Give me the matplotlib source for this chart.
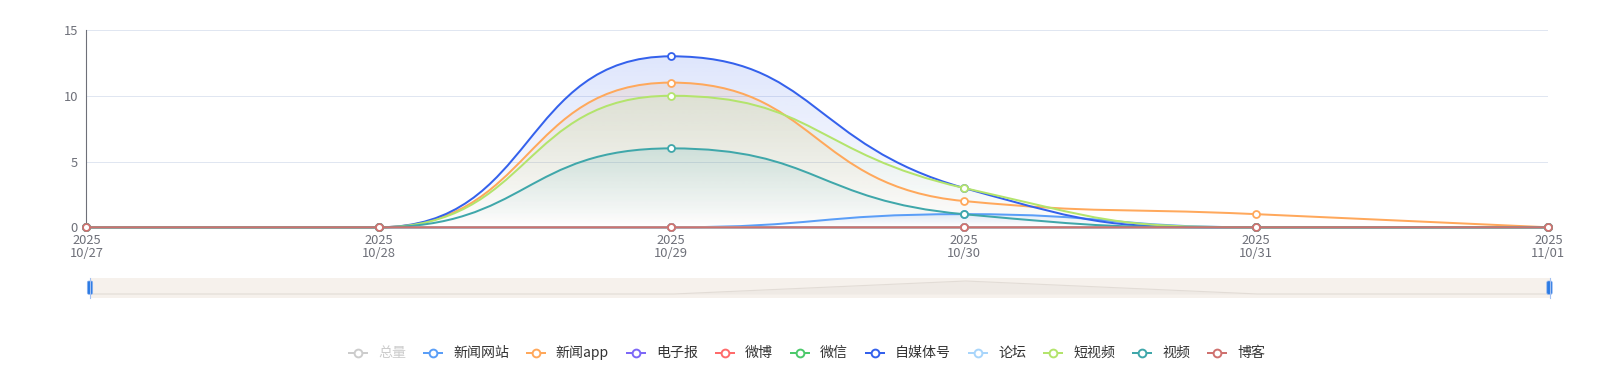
import numpy as np
import matplotlib
matplotlib.use('Agg')
import matplotlib.pyplot as plt
from matplotlib.path import Path
from matplotlib.patches import PathPatch, FancyBboxPatch
from matplotlib.colors import to_rgb

plt.rcParams['font.family'] = ['Noto Sans CJK SC', 'DejaVu Sans']

# ---- data ----
years = ['2025', '2025', '2025', '2025', '2025', '2025']
days = ['10/27', '10/28', '10/29', '10/30', '10/31', '11/01']

news_site = [0, 0, 0, 1, 0, 0]
news_app = [0, 0, 11, 2, 1, 0]
e_paper = [0, 0, 0, 0, 0, 0]
weibo = [0, 0, 0, 0, 0, 0]
wechat = [0, 0, 0, 0, 0, 0]
self_media = [0, 0, 13, 3, 0, 0]
forum = [0, 0, 0, 0, 0, 0]
short_video = [0, 0, 10, 3, 0, 0]
video = [0, 0, 6, 1, 0, 0]
blog = [0, 0, 0, 0, 0, 0]

# (name, values, color); 总量 is switched off in the legend
series = [
    ('新闻网站', news_site, '#5a9ef7'),
    ('新闻app', news_app, '#ffa85b'),
    ('电子报', e_paper, '#7d68f7'),
    ('微博', weibo, '#ff6b6b'),
    ('微信', wechat, '#4cc96b'),
    ('自媒体号', self_media, '#3461ec'),
    ('论坛', forum, '#a8d5fb'),
    ('短视频', short_video, '#b3e46c'),
    ('视频', video, '#3fa7aa'),
    ('博客', blog, '#cf716f'),
]
legend_items = [('总量', '#cccccc', False)] + [(n, c, True) for n, v, c in series]

W, H = 1613, 382
fig = plt.figure(figsize=(W / 100, H / 100), dpi=100)

ax = fig.add_axes([86.3 / W, 1 - 227.3 / H, (1548.3 - 86.3) / W, (227.3 - 30) / H])
x = np.arange(len(days))
ax.set_xlim(0, len(days) - 1)
ax.set_ylim(0, 15)


def smooth_curve(ax, xs, ys, smooth=0.5):
    # echarts style bezier smoothing, done in pixel space
    pts = ax.transData.transform(np.column_stack([xs, ys]).astype(float))
    n = len(pts)
    verts = [tuple(pts[0])]
    codes = [Path.MOVETO]
    cp0 = tuple(pts[0])
    for k in range(1, n):
        px, py = pts[k - 1]
        cx, cy = pts[k]
        if k == n - 1:
            cp1 = (cx, cy)
            nxt = None
        else:
            nx, ny = pts[k + 1]
            vx, vy = nx - px, ny - py
            lp = np.hypot(cx - px, cy - py)
            ln = np.hypot(nx - cx, ny - cy)
            r = ln / (ln + lp)
            ncx = cx + vx * smooth * r
            ncy = cy + vy * smooth * r
            ncx = min(max(ncx, min(nx, cx)), max(nx, cx))
            ncy = min(max(ncy, min(ny, cy)), max(ny, cy))
            vx, vy = ncx - cx, ncy - cy
            c1x = cx - vx * lp / ln
            c1y = cy - vy * lp / ln
            c1x = min(max(c1x, min(px, cx)), max(px, cx))
            c1y = min(max(c1y, min(py, cy)), max(py, cy))
            vx, vy = cx - c1x, cy - c1y
            ncx = cx + vx * ln / lp
            ncy = cy + vy * ln / lp
            cp1 = (c1x, c1y)
            nxt = (ncx, ncy)
        verts += [cp0, cp1, (cx, cy)]
        codes += [Path.CURVE4] * 3
        cp0 = nxt
    verts = ax.transData.inverted().transform(np.array(verts))
    return verts, codes


curves = [smooth_curve(ax, x, vals) for _, vals, _ in series]

for i, ((name, vals, color), (verts, codes)) in enumerate(zip(series, curves)):
    if max(vals) > 0:
        fverts = np.vstack([verts, [[x[-1], 0], [x[0], 0], [x[0], 0]]])
        fcodes = codes + [Path.LINETO, Path.LINETO, Path.CLOSEPOLY]
        clip = PathPatch(Path(fverts, fcodes), transform=ax.transData,
                         facecolor='none', edgecolor='none')
        ax.add_patch(clip)
        grad = np.zeros((256, 2, 4))
        grad[..., :3] = to_rgb(color)
        grad[..., 3] = np.linspace(0.16, 0.0, 256)[:, None]
        im = ax.imshow(grad, extent=[x[0], x[-1], 0, max(vals)], origin='upper',
                       aspect='auto', interpolation='bilinear', zorder=2 + i * 0.1)
        im.set_clip_path(clip)
    z = 10 + i * 2
    ax.add_patch(PathPatch(Path(verts, codes), facecolor='none', edgecolor=color,
                           lw=1.44, zorder=z, clip_on=False))
    ax.plot(x, vals, 'o', ms=5.0, mfc='white', mec=color, mew=1.3,
            zorder=z + 1, clip_on=False)

ax.set_xlim(0, len(days) - 1)
ax.set_ylim(0, 15)
ax.set_yticks([0, 5, 10, 15])
ax.set_xticks(x)
ax.set_xticklabels([f'{yr}\n{d}' for yr, d in zip(years, days)], linespacing=1.0)
ax.tick_params(axis='x', length=0, pad=4.5, labelsize=9.3, labelcolor='#6e7079')
ax.tick_params(axis='y', length=0, pad=6, labelsize=9.3, labelcolor='#6e7079')
ax.grid(axis='y', color='#e0e6f1', lw=0.72)
ax.set_axisbelow(True)
for s in ['top', 'right']:
    ax.spines[s].set_visible(False)
ax.spines['left'].set_color('#6e7079')
ax.spines['bottom'].set_color('#6e7079')
ax.spines['left'].set_linewidth(0.8)
ax.spines['bottom'].set_linewidth(0.8)

# ---- data zoom slider ----
sl = fig.add_axes([90 / W, 1 - 297.7 / H, (1549.5 - 90) / W, 20 / H])
sl.set_facecolor('#f6f1ec')
for s in sl.spines.values():
    s.set_visible(False)
sl.set_xticks([])
sl.set_yticks([])
sl.set_xlim(0, len(days) - 1)
sl.set_ylim(-0.285, 1.254)
sl.fill_between(x, news_site, 0, color='#e4ded8', alpha=0.35, lw=0)
sl.plot(x, news_site, color='#e2dcd6', lw=0.8)

# overlay in pixel coordinates
ov = fig.add_axes([0, 0, 1, 1])
ov.set_xlim(0, W)
ov.set_ylim(H, 0)
ov.axis('off')
ov.set_zorder(10)

for xc in (90, 1549.5):
    ov.plot([xc, xc], [277.7, 297.7], color='#a3c0f2', lw=0.8)
    ov.add_patch(FancyBboxPatch((xc - 2.7, 281), 5.4, 13.3,
                                boxstyle='round,pad=0,rounding_size=1.5',
                                fc='#2b7be4', ec='#8fb4f0', lw=0.5))

# ---- legend ----
renderer = fig.canvas.get_renderer()
fs = 10.08
icon_w, icon_gap, item_gap = 20, 10, 17
widths = []
for name, _, _ in legend_items:
    t = ov.text(0, 0, name, fontsize=fs)
    widths.append(t.get_window_extent(renderer).width)
    t.remove()
total = sum(icon_w + icon_gap + w for w in widths) + item_gap * (len(widths) - 1)
lx = W / 2 - total / 2
ly = 353
for (name, color, on), w in zip(legend_items, widths):
    ov.plot([lx, lx + icon_w], [ly, ly], color=color, lw=1.44, solid_capstyle='butt')
    ov.plot(lx + icon_w / 2, ly, 'o', ms=5.6, mfc='white', mec=color, mew=1.4)
    ov.text(lx + icon_w + icon_gap, ly, name, fontsize=fs, va='center', ha='left',
            color='#333333' if on else '#cccccc')
    lx += icon_w + icon_gap + w + item_gap

fig.savefig('out.png', dpi=100)
